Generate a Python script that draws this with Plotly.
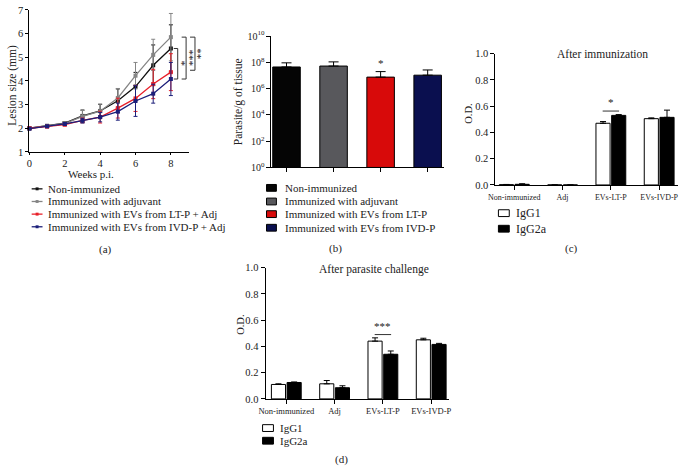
import math
import plotly.graph_objects as go

W, H = 680, 472
SERIF = "Liberation Serif"

# (a) lesion size over time
weeks = [0, 1, 2, 3, 4, 5, 6, 7, 8]
non_imm = [2.0, 2.1, 2.22, 2.52, 2.73, 3.16, 3.76, 4.66, 5.37]
non_imm_err = [0.04, 0.05, 0.06, 0.25, 0.28, 0.5, 0.6, 0.86, 1.0]
adjuvant = [2.0, 2.1, 2.2, 2.5, 2.72, 3.28, 4.22, 5.1, 5.85]
adjuvant_err = [0.04, 0.05, 0.07, 0.25, 0.3, 0.4, 0.56, 0.66, 1.0]
ev_lt = [2.0, 2.07, 2.15, 2.33, 2.47, 2.85, 3.26, 3.87, 4.37]
ev_lt_err = [0.04, 0.05, 0.05, 0.1, 0.25, 0.42, 0.55, 0.62, 0.78]
ev_ivd = [1.98, 2.08, 2.18, 2.32, 2.47, 2.7, 3.15, 3.46, 4.08]
ev_ivd_err = [0.04, 0.05, 0.06, 0.1, 0.2, 0.36, 0.65, 0.4, 0.7]
line_names = ["Non-immunized", "Immunized with adjuvant",
              "Immunized with EVs from LT-P + Adj", "Immunized with EVs from IVD-P + Adj"]
line_colors = ["#111111", "#858585", "#e8202a", "#1c1f7a"]

# (b) parasite load
groups_b = ["Non-immunized", "Immunized with adjuvant",
            "Immunized with EVs from LT-P", "Immunized with EVs from IVD-P"]
parasites = [4.5e7, 5.3e7, 7.6e6, 1.07e7]
parasites_err = [4.8e7, 5.7e7, 1.24e7, 1.6e7]
bar_colors = ["#050505", "#58585c", "#d80a0a", "#0a0f4f"]

# (c) and (d) antibody O.D.
od_cats = ["Non-immunized", "Adj", "EVs-LT-P", "EVs-IVD-P"]
igg1_imm = [0.002, 0.0, 0.47, 0.505]
igg1_imm_err = [0.002, 0.0, 0.013, 0.006]
igg2a_imm = [0.005, 0.0, 0.53, 0.515]
igg2a_imm_err = [0.004, 0.0, 0.006, 0.055]
igg1_chal = [0.11, 0.115, 0.44, 0.45]
igg1_chal_err = [0.005, 0.025, 0.025, 0.012]
igg2a_chal = [0.125, 0.085, 0.34, 0.415]
igg2a_chal_err = [0.004, 0.015, 0.025, 0.008]


def px(x):
    return x / W


def py(y):
    return 1 - y / H


fig = go.Figure()

# panel (a)
series = [(non_imm, non_imm_err), (adjuvant, adjuvant_err), (ev_lt, ev_lt_err), (ev_ivd, ev_ivd_err)]
for (vals, err), name, col in zip(series, line_names, line_colors):
    fig.add_trace(go.Scatter(
        x=weeks, y=vals, name=name, mode="lines+markers",
        line=dict(color=col, width=1.3),
        marker=dict(symbol="square", size=4, color=col),
        error_y=dict(type="data", array=err, color=col, thickness=1, width=2),
        cliponaxis=False, xaxis="x", yaxis="y", showlegend=False))

# panel (b)
fig.add_trace(go.Bar(
    x=list(range(len(groups_b))), y=parasites, base=1,
    marker=dict(color=bar_colors, line=dict(color="black", width=1)),
    error_y=dict(type="data", array=parasites_err, arrayminus=[0] * 4, symmetric=False,
                 color="black", thickness=1, width=5),
    xaxis="x2", yaxis="y2", showlegend=False))

# panels (c), (d)
for ax, (v1, e1, v2, e2) in [("3", (igg1_imm, igg1_imm_err, igg2a_imm, igg2a_imm_err)),
                             ("4", (igg1_chal, igg1_chal_err, igg2a_chal, igg2a_chal_err))]:
    fig.add_trace(go.Bar(
        x=list(range(4)), y=v1, name="IgG1",
        marker=dict(color="white", line=dict(color="black", width=1)),
        error_y=dict(type="data", array=e1, arrayminus=[0] * 4, symmetric=False,
                     color="black", thickness=1, width=3),
        xaxis="x" + ax, yaxis="y" + ax, showlegend=False))
    fig.add_trace(go.Bar(
        x=list(range(4)), y=v2, name="IgG2a",
        marker=dict(color="black", line=dict(color="black", width=1)),
        error_y=dict(type="data", array=e2, arrayminus=[0] * 4, symmetric=False,
                     color="black", thickness=1, width=3),
        xaxis="x" + ax, yaxis="y" + ax, showlegend=False))

axis_common = dict(showgrid=False, zeroline=False, showline=True, linecolor="black",
                   linewidth=1, ticks="outside", ticklen=4, tickcolor="black",
                   tickfont=dict(family=SERIF, size=11, color="#222"))

fig.update_layout(
    width=W, height=H, margin=dict(l=0, r=0, t=0, b=0),
    paper_bgcolor="white", plot_bgcolor="white",
    font=dict(family=SERIF, color="#222"),
    barmode="group", bargap=0.35, bargroupgap=0.1,
    xaxis=dict(axis_common, domain=[px(22.7), px(184)], range=[0, 9], ticklen=2,
               tickvals=[0, 2, 4, 6, 8], tickfont=dict(family=SERIF, size=10.5, color="#222"),
               anchor="y"),
    yaxis=dict(axis_common, domain=[py(149), py(3)], range=[1, 7], dtick=1, ticklen=3,
               tickfont=dict(family=SERIF, size=10.5, color="#222"), anchor="x"),
    xaxis2=dict(axis_common, domain=[px(268), px(443)], range=[-0.32, 3.35],
                tickvals=[0, 1, 2, 3], showticklabels=False, anchor="y2"),
    yaxis2=dict(axis_common, type="log", domain=[py(165), py(30)], range=[0, 10],
                tickvals=[10 ** k for k in range(0, 11, 2)],
                ticktext=["10<sup>%d</sup>" % k for k in range(0, 11, 2)],
                tickfont=dict(family=SERIF, size=10, color="#222"), anchor="x2"),
    xaxis3=dict(axis_common, domain=[px(495), 1.0], range=[-0.39, 3.39],
                tickvals=[0, 1, 2, 3], ticktext=od_cats,
                tickfont=dict(family=SERIF, size=8, color="#222"), anchor="y3"),
    yaxis3=dict(axis_common, domain=[py(183), py(48)], range=[0, 1], dtick=0.2,
                tickformat=".1f", tickfont=dict(family=SERIF, size=10.5, color="#222"), anchor="x3"),
    xaxis4=dict(axis_common, domain=[px(262), px(448)], range=[-0.43, 3.37],
                tickvals=[0, 1, 2, 3], ticktext=od_cats,
                tickfont=dict(family=SERIF, size=8.5, color="#222"), anchor="y4"),
    yaxis4=dict(axis_common, domain=[py(403), py(268)], range=[0, 1], dtick=0.2,
                tickformat=".1f", tickfont=dict(family=SERIF, size=10.5, color="#222"), anchor="x4"),
)

shapes = []
ann = []


def text(x, y, s, size=11, angle=0, xanchor="center", yanchor="middle", xref="paper", yref="paper"):
    ann.append(dict(x=x, y=y, xref=xref, yref=yref, text=s, showarrow=False, textangle=angle,
                    xanchor=xanchor, yanchor=yanchor, font=dict(family=SERIF, size=size, color="#222")))


# axis titles and panel labels
text(px(6), py(80), "Lesion size (mm)", 11.5, -90)
text(px(85), py(172), "Weeks p.i.", 11)
text(px(234), py(97), "Parasite/g of tissue", 11.5, -90)
text(px(468), py(110), "O.D.", 10.5, -90)
text(px(603), py(48), "After immunization", 11.5)
text(px(237), py(327), "O.D.", 10.5, -90)
text(px(372), py(270), "After parasite challenge", 11.5)
for lab, x, y in [("(a)", 100, 249), ("(b)", 333, 248), ("(c)", 572, 248), ("(d)", 339, 465)]:
    text(px(x), py(y), lab, 11)

# significance brackets in (a)
last = len(weeks) - 1
for x0, x1, ya, yb, star, sx in [(169, 173, non_imm[last], ev_ivd[last], "*", 177.5),
                                 (177, 181.5, adjuvant[last], ev_ivd[last], "***", 185),
                                 (185.5, 190.5, adjuvant[last], ev_lt[last] + 0.08, "**", 194)]:
    shapes.append(dict(type="path", xref="paper", yref="y",
                       path="M %f,%f L %f,%f L %f,%f L %f,%f" % (px(x0), ya, px(x1), ya, px(x1), yb, px(x0), yb),
                       line=dict(color="#333", width=1)))
    text(px(sx), (ya + yb) / 2, star, 11, 90, yref="y")

# star in (b)
text(2, math.log10(parasites[2] + parasites_err[2]) + 0.05, "*", 11, yanchor="bottom", xref="x2", yref="y2")

# star bars in (c) and (d)
for xr, yr, y, s in [("x3", "y3", 0.563, "*"), ("x4", "y4", 0.49, "***")]:
    shapes.append(dict(type="line", xref=xr, yref=yr, x0=2 - 0.17, x1=2 + 0.17, y0=y, y1=y,
                       line=dict(color="#333", width=1)))
    text(2, y + 0.005, s, 11, yanchor="bottom", xref=xr, yref=yr)

# legend (a)
for i, (name, col) in enumerate(zip(line_names, line_colors)):
    yy = [187, 200, 213, 226][i]
    shapes.append(dict(type="line", xref="paper", yref="paper", x0=px(25), x1=px(36), y0=py(yy), y1=py(yy),
                       line=dict(color=col, width=1.3)))
    shapes.append(dict(type="rect", xref="paper", yref="paper", x0=px(29), x1=px(32), y0=py(yy - 1.5),
                       y1=py(yy + 1.5), fillcolor=col, line=dict(width=0)))
    text(px(40), py(yy), name, 11, xanchor="left")

# legend (b)
for i, (name, col) in enumerate(zip(groups_b, bar_colors)):
    yy = [186, 200, 213, 227][i]
    shapes.append(dict(type="rect", xref="paper", yref="paper", x0=px(263), x1=px(273), y0=py(yy - 3.5),
                       y1=py(yy + 3.5), fillcolor=col, line=dict(color="black", width=1)))
    text(px(280), py(yy), name, 11, xanchor="left")

# legends (c), (d)
for xs, rows, size in [(498, [212, 228], 12), (259, [433, 446], 11)]:
    for yy, name, fill in zip(rows, ["IgG1", "IgG2a"], ["white", "black"]):
        shapes.append(dict(type="rect", xref="paper", yref="paper", x0=px(xs), x1=px(xs + 11),
                           y0=py(yy - 3.5), y1=py(yy + 3.5), fillcolor=fill,
                           line=dict(color="black", width=1)))
        text(px(xs + 16), py(yy), name, size, xanchor="left")

fig.update_layout(shapes=shapes, annotations=ann)
# drop the default page margin so the figure sits at the window's corner
fig.write_html("out.html", config={"displayModeBar": False},
               post_script="document.body.style.margin='0';")
